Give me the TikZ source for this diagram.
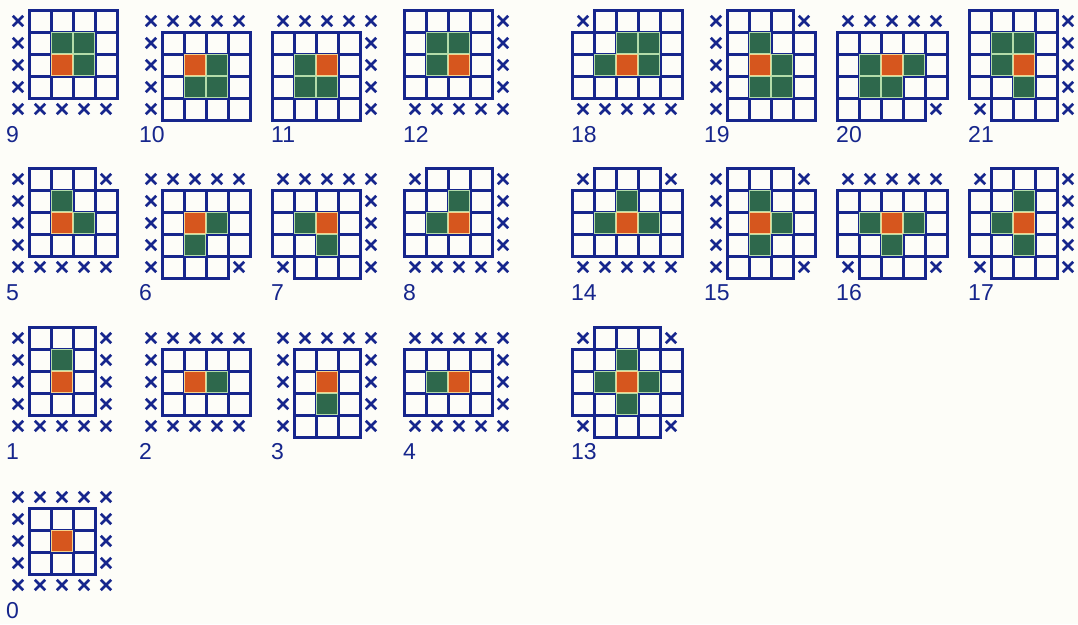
\documentclass[tikz,border=0pt]{standalone}
\usepackage{fontspec}
\setmainfont{Liberation Sans}
\definecolor{navy}{RGB}{22,38,140}
\definecolor{cellgreen}{RGB}{46,104,76}
\definecolor{cellorange}{RGB}{214,86,30}
\definecolor{greenedge}{RGB}{180,220,170}
\definecolor{orangeedge}{RGB}{245,210,140}
\definecolor{bgcol}{RGB}{253,253,248}
\tikzset{
  boxline/.style={draw=navy, line width=3pt},
  crossline/.style={draw=navy, line width=2.7pt},
  greencell/.style={fill=cellgreen, draw=greenedge, line width=1.2pt},
  orangecell/.style={fill=cellorange, draw=orangeedge, line width=1.2pt},
  numlabel/.style={anchor=base west, inner sep=0pt, text=navy, font=\fontsize{23}{23}\selectfont},
}
\newcommand\cellAx[2]{}
\newcommand\cellAb[2]{\draw[boxline] (#1,#2) rectangle ++(22,22);}
\newcommand\cellAg[2]{\cellAb{#1}{#2}}
\newcommand\cellAo[2]{\cellAb{#1}{#2}}
\newcommand\cellBx[2]{\draw[crossline] (#1+5.8,#2+5.8) -- ++(10.4,10.4) (#1+16.2,#2+5.8) -- ++(-10.4,10.4);}
\newcommand\cellBb[2]{}
\newcommand\cellBg[2]{\draw[greencell] (#1+0.8,#2+0.8) rectangle ++(20.4,20.4);}
\newcommand\cellBo[2]{\draw[orangecell] (#1+0.8,#2+0.8) rectangle ++(20.4,20.4);}
\newcommand\grid[4]{%
  \foreach \rowlist [count=\rr from 0] in {#4} {
    \foreach \cc [count=\kk from 0] in \rowlist {
      \pgfmathsetmacro\X{#1+22*\kk}\pgfmathsetmacro\Y{#2+22*\rr}
      \csname cellA\cc\endcsname{\X}{\Y}
    }}
  \foreach \rowlist [count=\rr from 0] in {#4} {
    \foreach \cc [count=\kk from 0] in \rowlist {
      \pgfmathsetmacro\X{#1+22*\kk}\pgfmathsetmacro\Y{#2+22*\rr}
      \csname cellB\cc\endcsname{\X}{\Y}
    }}
  \node[numlabel] (lab#3) at (#1-1,#2+132) {#3};
}
\begin{document}
\begin{tikzpicture}[x=1pt,y=-1pt]
\useasboundingbox[fill=bgcol] (0,0) rectangle (1078,624);
% row A
\grid{7}{10}{9}{{x,b,b,b,b},{x,b,g,g,b},{x,b,o,g,b},{x,b,b,b,b},{x,x,x,x,x}}
\grid{140}{10}{10}{{x,x,x,x,x},{x,b,b,b,b},{x,b,o,g,b},{x,b,g,g,b},{x,b,b,b,b}}
\grid{272}{10}{11}{{x,x,x,x,x},{b,b,b,b,x},{b,g,o,b,x},{b,g,g,b,x},{b,b,b,b,x}}
\grid{404}{10}{12}{{b,b,b,b,x},{b,g,g,b,x},{b,g,o,b,x},{b,b,b,b,x},{x,x,x,x,x}}
\grid{572}{10}{18}{{x,b,b,b,b},{b,b,g,g,b},{b,g,o,g,b},{b,b,b,b,b},{x,x,x,x,x}}
\grid{705}{10}{19}{{x,b,b,b,x},{x,b,g,b,b},{x,b,o,g,b},{x,b,g,g,b},{x,b,b,b,b}}
\grid{837}{10}{20}{{x,x,x,x,x},{b,b,b,b,b},{b,g,o,g,b},{b,g,g,b,b},{b,b,b,b,x}}
\grid{969}{10}{21}{{b,b,b,b,x},{b,g,g,b,x},{b,g,o,b,x},{b,b,g,b,x},{x,b,b,b,x}}
% row B
\grid{7}{168}{5}{{x,b,b,b,x},{x,b,g,b,b},{x,b,o,g,b},{x,b,b,b,b},{x,x,x,x,x}}
\grid{140}{168}{6}{{x,x,x,x,x},{x,b,b,b,b},{x,b,o,g,b},{x,b,g,b,b},{x,b,b,b,x}}
\grid{272}{168}{7}{{x,x,x,x,x},{b,b,b,b,x},{b,g,o,b,x},{b,b,g,b,x},{x,b,b,b,x}}
\grid{404}{168}{8}{{x,b,b,b,x},{b,b,g,b,x},{b,g,o,b,x},{b,b,b,b,x},{x,x,x,x,x}}
\grid{572}{168}{14}{{x,b,b,b,x},{b,b,g,b,b},{b,g,o,g,b},{b,b,b,b,b},{x,x,x,x,x}}
\grid{705}{168}{15}{{x,b,b,b,x},{x,b,g,b,b},{x,b,o,g,b},{x,b,g,b,b},{x,b,b,b,x}}
\grid{837}{168}{16}{{x,x,x,x,x},{b,b,b,b,b},{b,g,o,g,b},{b,b,g,b,b},{x,b,b,b,x}}
\grid{969}{168}{17}{{x,b,b,b,x},{b,b,g,b,x},{b,g,o,b,x},{b,b,g,b,x},{x,b,b,b,x}}
% row C
\grid{7}{327}{1}{{x,b,b,b,x},{x,b,g,b,x},{x,b,o,b,x},{x,b,b,b,x},{x,x,x,x,x}}
\grid{140}{327}{2}{{x,x,x,x,x},{x,b,b,b,b},{x,b,o,g,b},{x,b,b,b,b},{x,x,x,x,x}}
\grid{272}{327}{3}{{x,x,x,x,x},{x,b,b,b,x},{x,b,o,b,x},{x,b,g,b,x},{x,b,b,b,x}}
\grid{404}{327}{4}{{x,x,x,x,x},{b,b,b,b,x},{b,g,o,b,x},{b,b,b,b,x},{x,x,x,x,x}}
\grid{572}{327}{13}{{x,b,b,b,x},{b,b,g,b,b},{b,g,o,g,b},{b,b,g,b,b},{x,b,b,b,x}}
% row D
\grid{7}{486}{0}{{x,x,x,x,x},{x,b,b,b,x},{x,b,o,b,x},{x,b,b,b,x},{x,x,x,x,x}}
\end{tikzpicture}
\end{document}
